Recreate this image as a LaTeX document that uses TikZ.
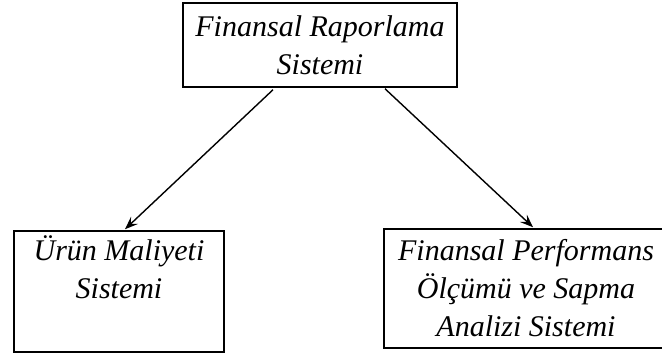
\documentclass[tikz,border=0pt]{standalone}
\usepackage{fontspec}
\setmainfont{Liberation Serif}
\usetikzlibrary{arrows.meta}

\begin{document}
\begin{tikzpicture}[x=1pt, y=1pt,
		sysbox/.style={draw, line width=1.5pt, inner sep=0pt, align=center,
			font=\fontsize{30}{38}\selectfont\itshape},
		link/.style={line width=1.4pt, -{Stealth[length=13pt, width=10pt, inset=5pt]}}]
		\useasboundingbox (0,0) rectangle (662,358);
		\node[sysbox, minimum width=274pt, minimum height=84pt] (rapor) at (320,313) {Finansal Raporlama\\Sistemi};
		\node[sysbox, minimum width=210pt, minimum height=121pt] (urun) at (119,66.5) {Ürün Maliyeti\\Sistemi\\\strut};
		\node[sysbox, minimum width=284pt, minimum height=119pt] (perf) at (526,69.5) {Finansal Performans\\Ölçümü ve Sapma\\Analizi Sistemi};
		\draw[link] ([xshift=-47pt, yshift=-2pt]rapor.south) -- ([xshift=6pt, yshift=1pt]urun.north);
		\draw[link] ([xshift=65pt, yshift=-1pt]rapor.south) -- ([xshift=7pt, yshift=1pt]perf.north);
	\end{tikzpicture}
\end{document}
